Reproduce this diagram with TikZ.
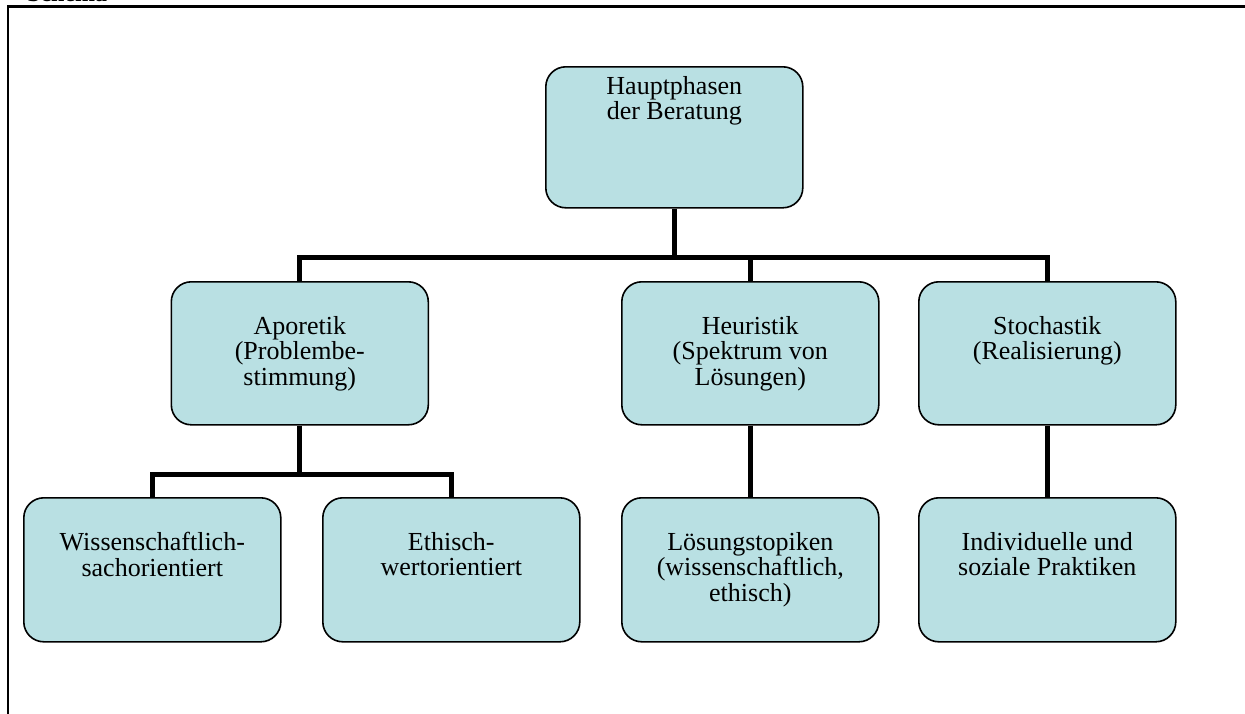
\documentclass[tikz,border=0pt]{standalone}
\usepackage{fontspec}
\setmainfont{Liberation Serif}
\definecolor{boxfill}{HTML}{B9E0E3}
\begin{document}
\begin{tikzpicture}[x=1pt,y=-1pt,
  phase/.style={draw=black, line width=1.6pt, fill=boxfill, rounded corners=20pt,
    minimum width=257pt, minimum height=143pt, inner sep=0pt, anchor=north west},
  phasetext/.style={anchor=north, align=center, inner sep=0pt,
    font=\fontsize{26}{25.5}\selectfont},
  conn/.style={line width=5pt, line join=miter},
  frame/.style={line width=2.6pt}]
\useasboundingbox (0,0) rectangle (1245,713);

% caption above the frame, mostly outside the page
\node[anchor=base west, inner sep=0pt, font=\bfseries\fontsize{24}{26}\selectfont] (cap) at (27,1.5) {Schema};

% frame
\draw[frame] (8,730) -- (8,6.5) -- (1260,6.5);

% boxes
\node[phase, minimum height=141pt] (top) at (545,66) {};
\node[phase] (apor)  at (170.5,281) {};
\node[phase] (heur)  at (621,281) {};
\node[phase] (stoch) at (918,281) {};
\node[phase, minimum height=144pt] (wiss)  at (23,497) {};
\node[phase, minimum height=144pt] (eth)   at (322,497) {};
\node[phase, minimum height=144pt] (loes)  at (621,497) {};
\node[phase, minimum height=144pt] (indiv) at (918,497) {};

% texts
\node[phasetext] (ttop)   at ([yshift=-10pt]top.north)   {Hauptphasen\\der Beratung};
\node[phasetext] (tapor)  at ([yshift=-35pt]apor.north)  {Aporetik\\(Problembe-\\stimmung)};
\node[phasetext] (theur)  at ([yshift=-35pt]heur.north)  {Heuristik\\(Spektrum von\\Lösungen)};
\node[phasetext] (tstoch) at ([yshift=-35pt]stoch.north) {Stochastik\\(Realisierung)};
\node[phasetext] (twiss)  at ([yshift=-35pt]wiss.north)  {Wissenschaftlich-\\sachorientiert};
\node[phasetext] (teth)   at ([yshift=-35pt]eth.north)   {Ethisch-\\wertorientiert};
\node[phasetext] (tloes)  at ([yshift=-35pt]loes.north)  {Lösungstopiken\\(wissenschaftlich,\\ethisch)};
\node[phasetext] (tindiv) at ([yshift=-35pt]indiv.north) {Individuelle und\\soziale Praktiken};

% connectors
\coordinate (busA) at (0,257);
\coordinate (busB) at (0,474);
\draw[conn] (top.south) -- (top.south |- busA);
\draw[conn] (apor.north) -- (apor.north |- busA) -- (stoch.north |- busA) -- (stoch.north);
\draw[conn] (heur.north |- busA) -- (heur.north);
\draw[conn] (apor.south) -- (apor.south |- busB);
\draw[conn] (wiss.north) -- (wiss.north |- busB) -- (eth.north |- busB) -- (eth.north);
\draw[conn] (heur.south) -- (loes.north);
\draw[conn] (stoch.south) -- (indiv.north);
\end{tikzpicture}
\end{document}
